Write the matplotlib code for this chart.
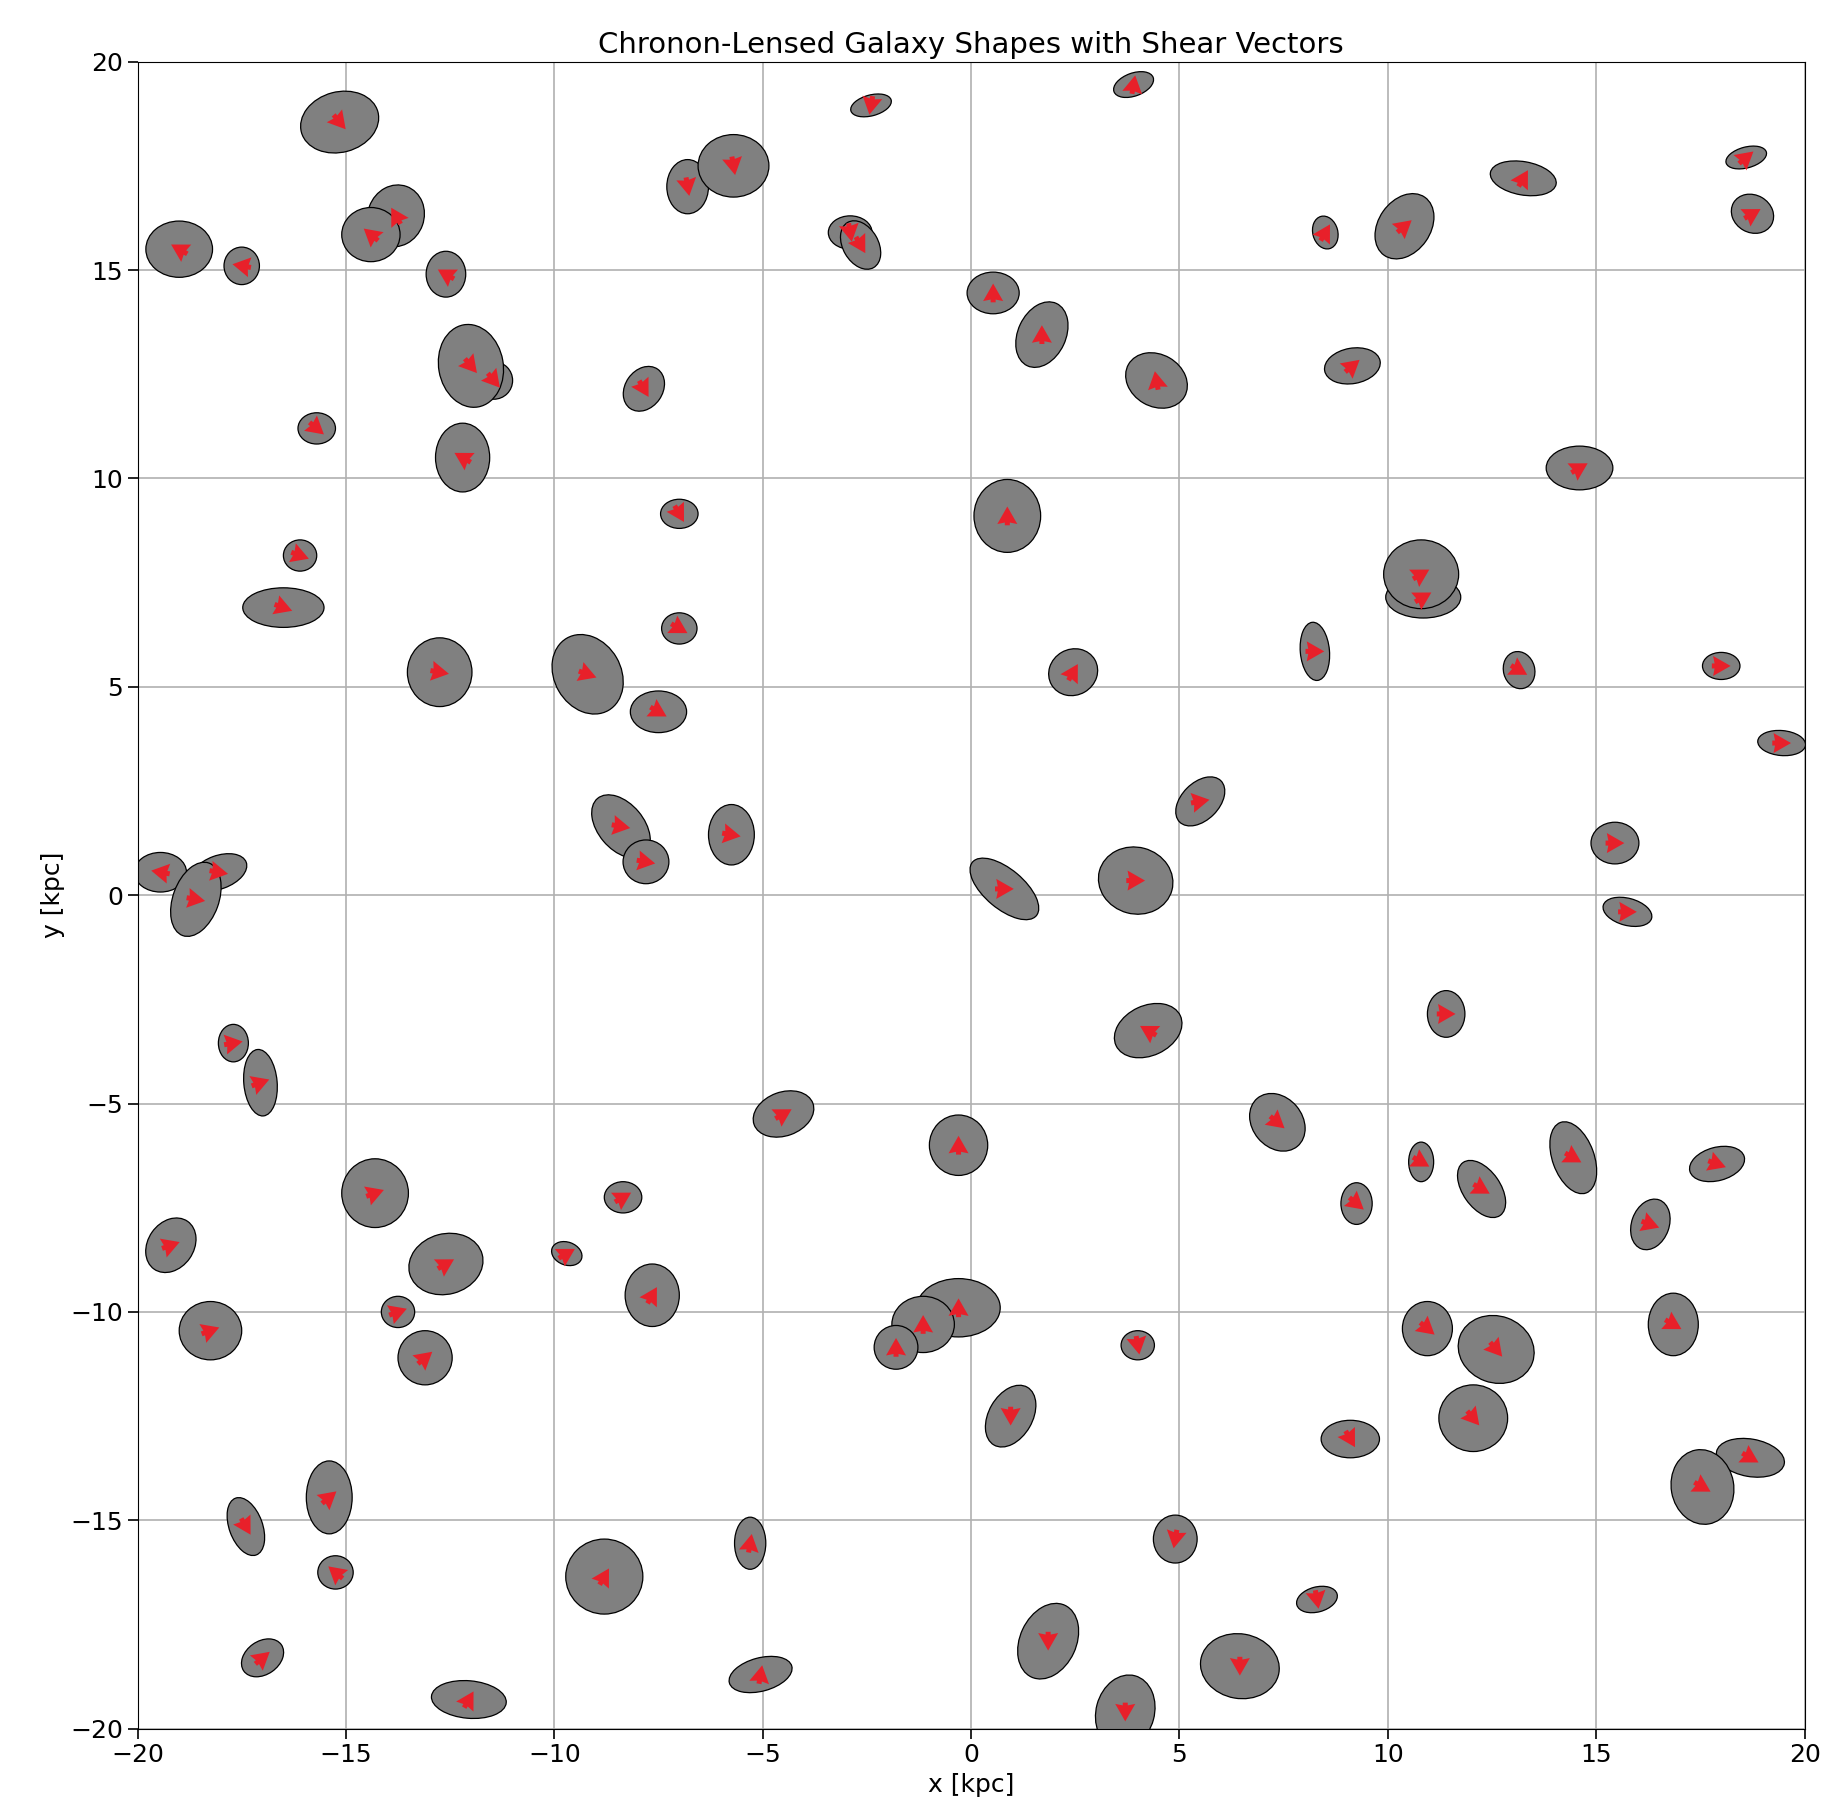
import matplotlib
matplotlib.use("Agg")
import matplotlib.pyplot as plt
from matplotlib.patches import Ellipse
import numpy as np

# galaxy: x, y, width, height, angle(deg), shear direction(deg)
gx = [-15.15,-19.0,-17.5,-13.8,-14.4,-12.6,-11.45,-12.0,-15.7,-12.2,-16.1,-16.5,-12.75,-9.2,-7.5,-7.85,-7.0,-7.0,-6.8,-5.7,-2.4,-2.9,-2.65,
      0.53,1.7,4.45,3.9,8.5,10.4,13.25,18.6,18.75,9.15,14.6,0.87,10.85,10.8,8.25,13.15,18.0,19.45,2.45,5.5,15.45,15.75,3.95,0.8,
      11.4,4.25,7.35,14.45,10.8,12.25,17.9,9.25,16.3,10.95,16.85,12.6,12.05,9.1,18.7,17.55,4.9,8.3,6.45,1.85,3.7,0.95,
      -0.3,-1.15,-1.8,4.0,-0.3,-4.5,-7.65,-8.35,-9.7,-8.8,-5.3,-5.05,-12.05,-17.0,-15.25,-15.4,-17.4,-18.25,-19.2,-13.1,-13.75,-12.6,-14.3,
      -17.7,-17.05,-19.45,-18.05,-18.6,-8.4,-7.8,-5.75]
gy = [18.55,15.5,15.1,16.3,15.85,14.9,12.35,12.7,11.2,10.5,8.15,6.9,5.35,5.3,4.4,12.15,9.15,6.4,17.0,17.5,18.95,15.9,15.6,
      14.45,13.45,12.35,19.45,15.9,16.05,17.2,17.7,16.35,12.7,10.25,9.1,7.15,7.7,5.85,5.4,5.5,3.65,5.35,2.25,1.25,-0.4,0.35,0.15,
      -2.85,-3.25,-5.45,-6.3,-6.4,-7.05,-6.45,-7.4,-7.9,-10.4,-10.3,-10.9,-12.55,-13.05,-13.5,-14.2,-15.45,-16.9,-18.5,-17.9,-19.6,-12.5,
      -9.9,-10.3,-10.85,-10.8,-6.0,-5.25,-9.6,-7.25,-8.6,-16.35,-15.55,-18.7,-19.3,-18.3,-16.25,-14.45,-15.15,-10.45,-8.4,-11.1,-10.0,-8.85,-7.15,
      -3.55,-4.5,0.55,0.55,-0.1,1.65,0.8,1.45]
gw = [1.9,1.6,0.85,1.35,1.4,0.95,0.9,1.55,0.9,1.3,0.8,1.95,1.55,1.6,1.35,0.9,0.9,0.85,1.0,1.7,1.0,1.05,0.85,
      1.25,1.15,1.55,1.0,0.6,1.25,1.6,1.0,1.05,1.35,1.6,1.6,1.8,1.8,0.7,0.75,0.9,1.15,1.2,0.9,1.15,1.2,1.8,2.0,
      0.9,1.7,1.2,1.0,0.6,0.9,1.35,0.75,0.9,1.2,1.2,1.85,1.65,1.4,1.65,1.5,1.05,1.0,1.9,1.35,1.4,1.05,
      2.0,1.5,1.05,0.8,1.4,1.5,1.3,0.9,0.75,1.85,0.75,1.55,1.8,1.1,0.85,1.1,0.8,1.5,1.1,1.3,0.8,1.8,1.6,
      0.72,0.8,1.25,1.4,1.1,1.1,1.1,1.1]
gh = [1.45,1.35,0.9,1.5,1.3,1.1,0.9,2.0,0.75,1.65,0.75,0.95,1.65,2.0,1.0,1.15,0.7,0.75,1.3,1.5,0.5,0.8,1.25,
      1.0,1.65,1.25,0.55,0.8,1.7,0.8,0.5,0.9,0.85,1.05,1.75,1.0,1.65,1.4,0.9,0.65,0.6,1.1,1.4,1.0,0.65,1.6,0.95,
      1.12,1.2,1.5,1.8,0.95,1.55,0.8,1.0,1.25,1.3,1.5,1.6,1.6,0.9,0.9,1.8,1.15,0.6,1.55,1.9,1.8,1.6,
      1.4,1.35,1.05,0.7,1.45,1.05,1.5,0.75,0.55,1.8,1.25,0.8,0.9,0.8,0.8,1.75,1.45,1.4,1.4,1.3,0.75,1.45,1.65,
      0.9,1.6,0.95,0.8,1.85,1.75,1.05,1.45]
ga = [15,0,0,-20,0,0,0,10,0,0,0,0,0,30,0,-35,0,0,0,0,15,0,30,
      0,-25,-30,20,15,-35,-10,15,-30,10,0,0,0,0,5,15,0,-5,30,-45,0,-15,-15,-40,
      0,25,40,20,0,35,15,0,-20,0,0,-20,0,0,-10,10,0,15,-10,-25,-15,-30,
      0,0,0,0,0,20,0,0,-20,0,0,15,-5,35,0,0,20,0,-35,0,0,15,0,
      0,5,0,20,-20,40,0,0]
gd = [-50,150,170,120,140,150,-50,-50,-40,150,-20,-20,-10,-20,-30,-60,-60,-30,-80,-80,-100,-80,-60,
      90,90,100,80,60,40,60,40,30,40,30,90,30,30,0,-30,0,0,60,10,0,0,0,0,
      0,150,-40,-30,-30,-30,-20,-40,-20,-40,-30,-50,-50,-60,-30,-30,-100,-80,-90,-90,-90,-90,
      90,90,90,-80,90,30,60,30,30,60,80,80,60,40,140,40,-60,20,20,40,20,30,20,
      10,20,170,-10,-10,-10,-10,-10]

fig = plt.figure(figsize=(18.27, 18.13), dpi=100)
ax = fig.add_axes([0.075, 0.0465, 0.913, 0.9195])
ax.set_axisbelow(True)
ax.grid(True, color='#b0b0b0', linewidth=1.2)
for x, y, w, h, a in zip(gx, gy, gw, gh, ga):
    ax.add_patch(Ellipse((x, y), w, h, angle=a, facecolor='#808080', edgecolor='black', linewidth=0.9, zorder=2))
L = 0.45
u = L*np.cos(np.radians(gd)); v = L*np.sin(np.radians(gd))
ax.quiver(gx, gy, u, v, color='#e8202a', scale_units='xy', scale=1, angles='xy',
          width=0.003, headwidth=4, headlength=3.5, headaxislength=3.2, pivot='middle', zorder=3)
ax.set_xlim(-20, 20); ax.set_ylim(-20, 20)
ax.set_aspect('equal')
ax.set_xlabel('x [kpc]', fontsize=18)
ax.set_ylabel('y [kpc]', fontsize=18)
ax.set_title('Chronon-Lensed Galaxy Shapes with Shear Vectors', fontsize=21)
ax.tick_params(labelsize=18, length=7, width=1.2)
fig.savefig('out.png', dpi=100)
